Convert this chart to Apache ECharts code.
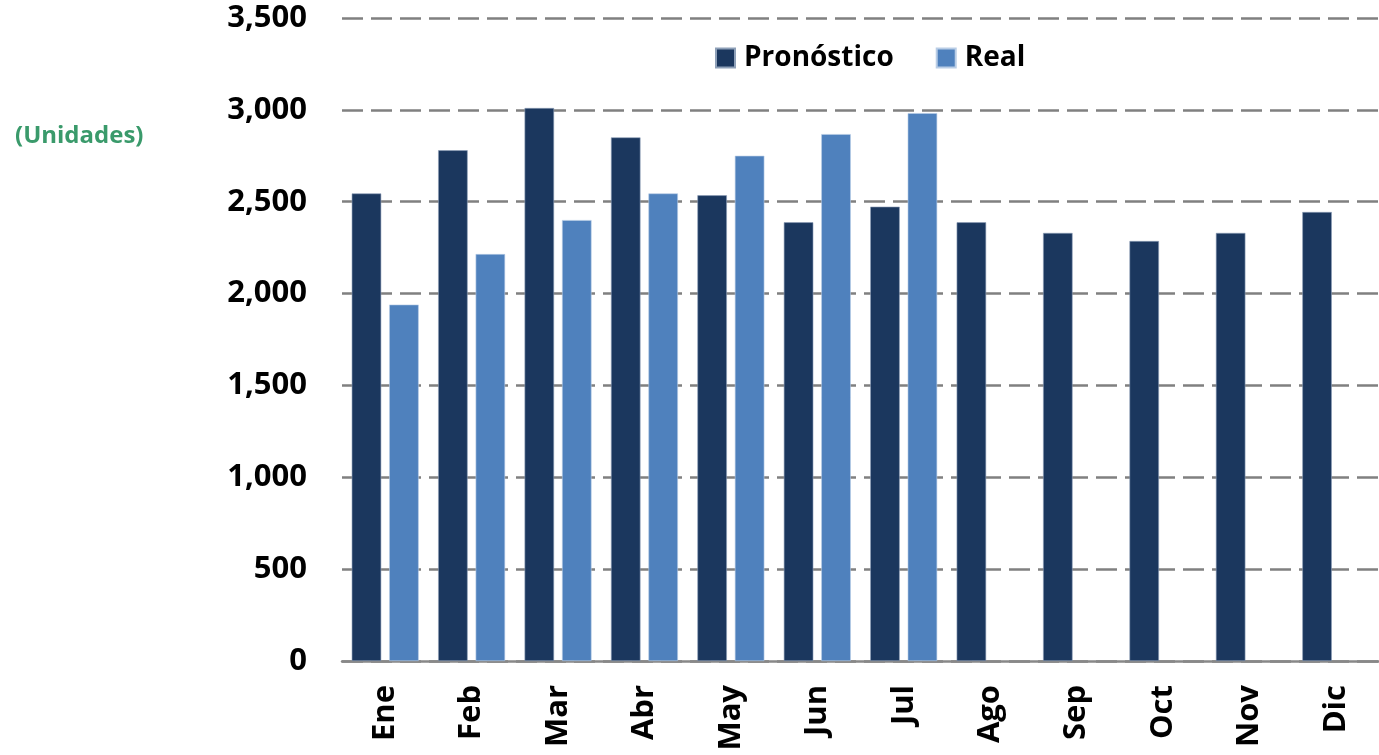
<!DOCTYPE html>
<html>
<head>
<meta charset="utf-8">
<script src="https://cdn.jsdelivr.net/npm/echarts@6/dist/echarts.min.js"></script>
<style>
  html, body { margin: 0; padding: 0; background: #fff; }
  #chart { width: 1379px; height: 755px; }
</style>
</head>
<body>
<div id="chart"></div>
<script>
var months = ['Ene', 'Feb', 'Mar', 'Abr', 'May', 'Jun', 'Jul', 'Ago', 'Sep', 'Oct', 'Nov', 'Dic'];
var pronostico = [2545, 2780, 3010, 2850, 2535, 2388, 2473, 2388, 2330, 2286, 2330, 2444];
var real = [1940, 2215, 2400, 2545, 2750, 2868, 2982, null, null, null, null, null];
var yTicks = { min: 0, max: 3500, interval: 500 };

var font = '"Open Sans", "Liberation Sans", sans-serif';
var chart = echarts.init(document.getElementById('chart'));

var option = {
    backgroundColor: '#fff',
    animation: false,
    title: {
        text: '(Unidades)',
        left: 10,
        top: 119,
        textStyle: { color: '#3a9a6b', fontSize: 24, fontWeight: 'bold', fontFamily: font }
    },
    legend: {
        left: 715,
        top: 44,
        padding: 0,
        icon: 'rect',
        itemWidth: 19,
        itemHeight: 19,
        itemGap: 42,
        textStyle: { color: '#000', fontSize: 28, fontWeight: 'bold', fontFamily: font, padding: [0, 0, 0, 4] },
        data: ['Pronóstico', 'Real']
    },
    // the plot area runs a little past the right edge of the picture
    grid: { left: 342, width: 1046, top: 18, bottom: 94 },
    xAxis: {
        type: 'category',
        data: months,
        axisLine: { lineStyle: { color: '#888', width: 2.5 } },
        axisTick: { show: false },
        axisLabel: {
            rotate: 90,
            margin: 24,
            color: '#000',
            fontSize: 31,
            fontWeight: 'bold',
            fontFamily: font
        }
    },
    yAxis: {
        type: 'value',
        min: yTicks.min,
        max: yTicks.max,
        interval: yTicks.interval,
        axisLine: { show: false },
        axisTick: { show: false },
        axisLabel: {
            margin: 35,
            color: '#000',
            fontSize: 31,
            fontWeight: 'bold',
            fontFamily: font,
            formatter: function (v) { return v.toLocaleString('en-US'); }
        },
        splitLine: { lineStyle: { color: '#808080', width: 2.5, type: [21, 8] } }
    },
    series: [
        {
            name: 'Pronóstico',
            type: 'bar',
            data: pronostico,
            barWidth: 29.5,
            barGap: '27%',
            itemStyle: { color: '#1b375e', borderColor: '#8ea0b8', borderWidth: 0.6 }
        },
        {
            name: 'Real',
            type: 'bar',
            data: real,
            barWidth: 29.5,
            barGap: '27%',
            itemStyle: { color: '#4f81bd', borderColor: '#b9cde6', borderWidth: 0.6 }
        }
    ]
};

chart.setOption(option);
</script>
</body>
</html>
